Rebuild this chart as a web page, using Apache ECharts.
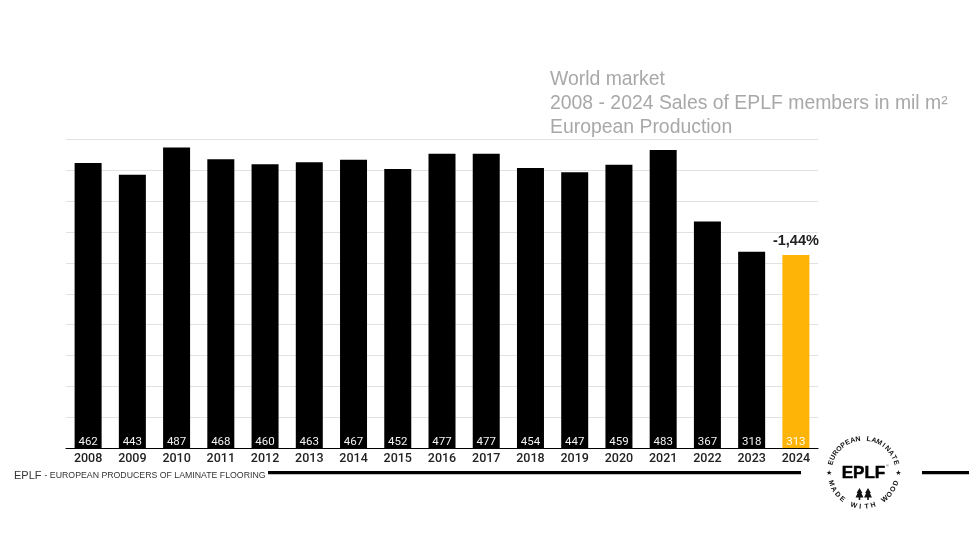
<!DOCTYPE html>
<html><head><meta charset="utf-8">
<style>html,body{margin:0;padding:0;background:#fff}#c{width:980px;height:560px}</style>
<script src="https://cdn.jsdelivr.net/npm/echarts@6/dist/echarts.min.js"></script>
</head><body><div id="c"></div>
<script>
const years = ['2008','2009','2010','2011','2012','2013','2014','2015','2016','2017','2018','2019','2020','2021','2022','2023','2024'];
const sales = [462,443,487,468,460,463,467,452,477,477,454,447,459,483,367,318,313];
const highlightYear = '2024';
const changeLabel = '-1,44%';
const titleLines = ['World market','2008 - 2024 Sales of EPLF members in mil m²','European Production'];

const chart = echarts.init(document.getElementById('c'), null, {renderer:'canvas'});
const LC = [863.5, 472.7], R = 34;
function ringText(str, startDeg, stepDeg, bottom){
  return str.split('').map((ch,i)=>{
    const a = (startDeg + i*stepDeg)*Math.PI/180;
    return {type:'text', x:LC[0]+R*Math.sin(a), y:LC[1]-R*Math.cos(a),
      rotation: bottom ? -(a-Math.PI) : -a,
      style:{text:ch, fill:'#111', font:'bold 7px "Liberation Sans", Arial', align:'center', verticalAlign:'middle'}};
  });
}
const tree = (cx,s)=>({type:'polygon', shape:{points:[[cx,488],[cx+3.4*s,493],[cx+2.2*s,493],[cx+4.6*s,497.5],[cx+0.8,497.5],[cx+0.8,500],[cx-0.8,500],[cx-0.8,497.5],[cx-4.6*s,497.5],[cx-2.2*s,493],[cx-3.4*s,493]]}, style:{fill:'#111'}});
const star = (x,y)=>({type:'text', x, y, style:{text:'★', fill:'#111', font:'7px "DejaVu Sans"', align:'center', verticalAlign:'middle'}});

chart.setOption({
  animation:false,
  backgroundColor:'#fff',
  grid:{left:66,right:162,top:139.5,bottom:112,containLabel:false},
  xAxis:{type:'category',data:years,
    axisTick:{show:false},
    axisLine:{lineStyle:{color:'#000',width:1.2}},
    axisLabel:{color:'#222',fontFamily:'Roboto',fontWeight:500,fontSize:12.5,margin:4,interval:0}},
  yAxis:{type:'value',min:0,max:500,interval:50,
    axisLabel:{show:false},axisLine:{show:false},axisTick:{show:false},
    splitLine:{lineStyle:{color:'#e2e2e2',width:1}}},
  series:[{type:'bar',barWidth:27,
    data:sales.map((v,i)=>({value:v,itemStyle:{color:years[i]===highlightYear?'#fdb407':'#000'}})),
    label:{show:true,position:'insideBottom',distance:0,color:'#fff',fontFamily:'Roboto',fontSize:11.5,opacity:0.95},
    markPoint:{symbol:'circle',symbolSize:0,silent:true,
      data:[{coord:[highlightYear,sales[years.indexOf(highlightYear)]]}],
      label:{show:true,position:'top',distance:6,formatter:changeLabel,color:'#222',
        fontFamily:'"Liberation Sans"',fontWeight:'bold',fontSize:14.5}}
  }],
  graphic:{elements:[
    ...titleLines.map((t,i)=>({type:'text',x:550,y:80+i*24,
      style:{text:t,fill:'#a8a8a8',font:'19.4px "Liberation Sans", Arial',verticalAlign:'middle'}})),
    {type:'text',x:14,y:475.5,style:{text:'EPLF',fill:'#333',font:'11px "Liberation Sans"',verticalAlign:'middle'}},
    {type:'text',x:44.5,y:475.5,style:{text:'- EUROPEAN PRODUCERS OF LAMINATE FLOORING',fill:'#333',font:'8.75px "Liberation Sans"',verticalAlign:'middle'}},
    {type:'rect',shape:{x:268,y:471,width:533,height:3.2},style:{fill:'#000'}},
    {type:'rect',shape:{x:922,y:471,width:47,height:3.2},style:{fill:'#000'}},
    {type:'text',x:LC[0],y:LC[1]+0.5,style:{text:'EPLF',fill:'#000',stroke:'#000',lineWidth:0.5,font:'bold 17px "Liberation Sans"',align:'center',verticalAlign:'middle'}},
    {type:'text',x:887.5,y:465.5,style:{text:'®',fill:'#555',font:'4px "Liberation Sans"',align:'center',verticalAlign:'middle'}},
    ...ringText('EUROPEAN LAMINATE',-73,9.1,false),
    ...ringText('MADE WITH WOOD',252,-11.08,true),
    star(829.2,472.7), star(898.5,472.7),
    tree(859.5,0.85), tree(868,0.85)
  ]}
});
</script></body></html>
